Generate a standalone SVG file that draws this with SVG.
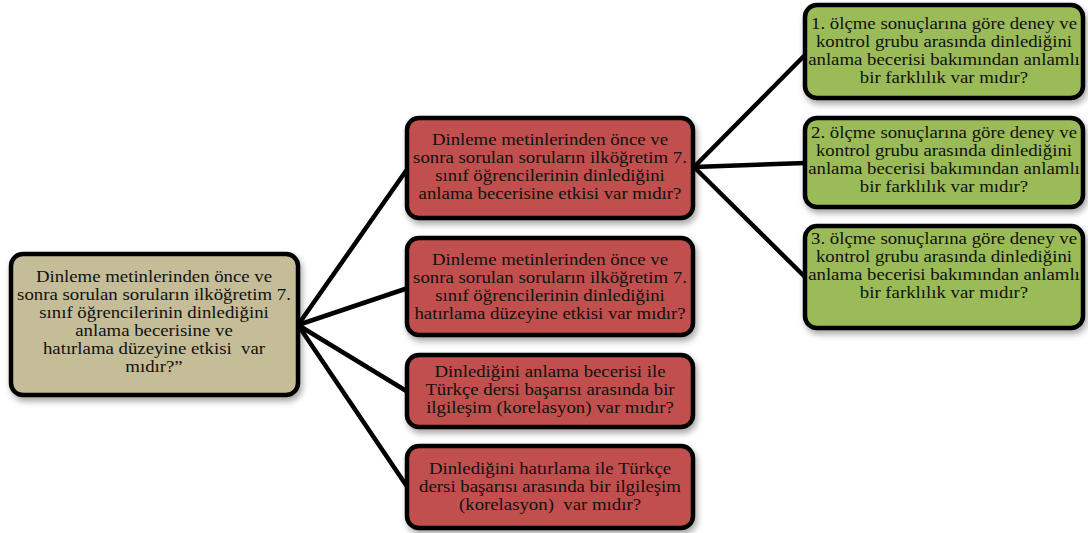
<svg xmlns="http://www.w3.org/2000/svg" width="1088" height="533" viewBox="0 0 1088 533">
<defs>
<filter id="sh" x="-10%" y="-10%" width="125%" height="135%">
<feDropShadow dx="2" dy="4" stdDeviation="3" flood-color="#000" flood-opacity="0.35"/>
</filter>
</defs>
<style>
.box{stroke:#000;stroke-width:4.5;filter:url(#sh)}
.tan{fill:#c4bd97}
.red{fill:#c0504d}
.grn{fill:#9bbb59}
text{font-family:"Liberation Serif","Times New Roman",serif;font-size:16.2px;fill:#111;text-anchor:middle}
.con line{stroke:#000;stroke-width:4.5;stroke-linecap:round}
</style>
<rect width="1088" height="533" fill="#fff"/>
<g class="con">
<line x1="298" y1="325" x2="408" y2="168"/>
<line x1="298" y1="325" x2="408" y2="288"/>
<line x1="298" y1="325" x2="408" y2="392"/>
<line x1="298" y1="325" x2="408" y2="488"/>
<line x1="694" y1="167" x2="805" y2="55"/>
<line x1="694" y1="167" x2="805" y2="163"/>
<line x1="694" y1="167" x2="805" y2="277"/>
</g>
<g id="root">
<rect class="box tan" x="11" y="254" width="287" height="141" rx="12"/>
<g transform="translate(154 0) scale(1.16 1)">
<text x="0" y="282">Dinleme metinlerinden önce ve</text>
<text x="0" y="300">sonra sorulan soruların ilköğretim 7.</text>
<text x="0" y="318">sınıf öğrencilerinin dinlediğini</text>
<text x="0" y="336">anlama becerisine ve</text>
<text x="0" y="354" xml:space="preserve">hatırlama düzeyine etkisi  var</text>
<text x="0" y="372">mıdır?”</text>
</g>
</g>
<g id="q1">
<rect class="box red" x="407" y="118" width="286" height="100" rx="12"/>
<g transform="translate(550 0) scale(1.16 1)">
<text x="0" y="145">Dinleme metinlerinden önce ve</text>
<text x="0" y="163">sonra sorulan soruların ilköğretim 7.</text>
<text x="0" y="181">sınıf öğrencilerinin dinlediğini</text>
<text x="0" y="199">anlama becerisine etkisi var mıdır?</text>
</g>
</g>
<g id="q2">
<rect class="box red" x="407" y="238" width="286" height="97" rx="12"/>
<g transform="translate(550 0) scale(1.16 1)">
<text x="0" y="265">Dinleme metinlerinden önce ve</text>
<text x="0" y="283">sonra sorulan soruların ilköğretim 7.</text>
<text x="0" y="301">sınıf öğrencilerinin dinlediğini</text>
<text x="0" y="319">hatırlama düzeyine etkisi var mıdır?</text>
</g>
</g>
<g id="q3">
<rect class="box red" x="407" y="355" width="286" height="72" rx="12"/>
<g transform="translate(550 0) scale(1.16 1)">
<text x="0" y="377">Dinlediğini anlama becerisi ile</text>
<text x="0" y="395">Türkçe dersi başarısı arasında bir</text>
<text x="0" y="413">ilgileşim (korelasyon) var mıdır?</text>
</g>
</g>
<g id="q4">
<rect class="box red" x="407" y="446" width="286" height="82" rx="12"/>
<g transform="translate(550 0) scale(1.16 1)">
<text x="0" y="474">Dinlediğini hatırlama ile Türkçe</text>
<text x="0" y="492">dersi başarısı arasında bir ilgileşim</text>
<text x="0" y="510" xml:space="preserve">(korelasyon)  var mıdır?</text>
</g>
</g>
<g id="s1">
<rect class="box grn" x="805" y="5" width="278" height="93" rx="12"/>
<g transform="translate(944 0) scale(1.16 1)">
<text x="0" y="29">1. ölçme sonuçlarına göre deney ve</text>
<text x="0" y="47">kontrol grubu arasında dinlediğini</text>
<text x="0" y="65">anlama becerisi bakımından anlamlı</text>
<text x="0" y="83">bir farklılık var mıdır?</text>
</g>
</g>
<g id="s2">
<rect class="box grn" x="805" y="118" width="278" height="89" rx="12"/>
<g transform="translate(944 0) scale(1.16 1)">
<text x="0" y="138">2. ölçme sonuçlarına göre deney ve</text>
<text x="0" y="156">kontrol grubu arasında dinlediğini</text>
<text x="0" y="174">anlama becerisi bakımından anlamlı</text>
<text x="0" y="192">bir farklılık var mıdır?</text>
</g>
</g>
<g id="s3">
<rect class="box grn" x="805" y="226" width="278" height="102" rx="12"/>
<g transform="translate(944 0) scale(1.16 1)">
<text x="0" y="244">3. ölçme sonuçlarına göre deney ve</text>
<text x="0" y="262">kontrol grubu arasında dinlediğini</text>
<text x="0" y="280">anlama becerisi bakımından anlamlı</text>
<text x="0" y="298">bir farklılık var mıdır?</text>
</g>
</g>
</svg>
